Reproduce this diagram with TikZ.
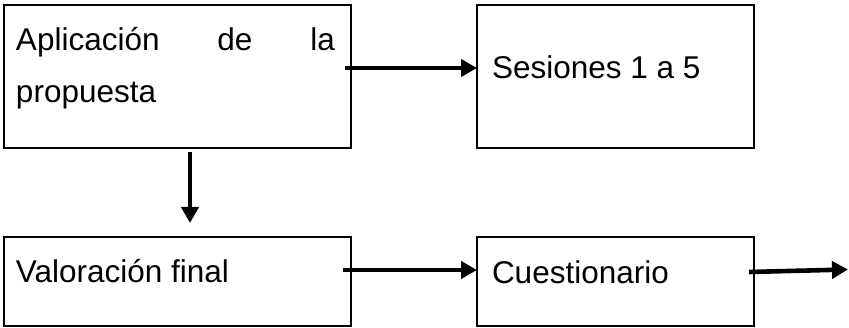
\documentclass[tikz,border=0pt]{standalone}
\usepackage{fontspec}
\setmainfont{Liberation Sans}
\usetikzlibrary{arrows.meta,calc}
\begin{document}
\begin{tikzpicture}[x=1pt,y=-1pt,
  boxnode/.style={draw=black,line width=2.7pt,rectangle,inner sep=0pt,outer sep=0pt},
  lbl/.style={anchor=base west,inner sep=0pt,outer sep=0pt,font=\fontsize{31.5}{52}\selectfont},
  conn/.style={line width=4.6pt,-{Triangle[length=16pt,width=17pt]}}]
\useasboundingbox (0,0) rectangle (849,328);
\node[boxnode,minimum width=347pt,minimum height=143pt] (b1) at (177.5,76.5) {};
\node[boxnode,minimum width=277pt,minimum height=143pt] (b2) at (615.5,76.5) {};
\node[boxnode,minimum width=347pt,minimum height=89pt] (b3) at (177.5,281.5) {};
\node[boxnode,minimum width=277pt,minimum height=89pt] (b4) at (615.5,281.5) {};
\node[lbl] (t1a) at (16,51) {\makebox[319pt][s]{Aplicación de la}};
\node[lbl] (t1b) at (16,103) {propuesta};
\node[lbl] (t2) at (492,79) {Sesiones 1 a 5};
\node[lbl] (t3) at (16,283) {Valoración final};
\node[lbl] (t4) at (492,284) {Cuestionario};
\coordinate (end4) at (848,269.5);
\draw[conn] ($(b1.east)+(-6,-8.5)$) -- ($(b2.west)+(0,-8.5)$);
\draw[conn] ($(b1.south)+(12.5,4)$) -- ($(b3.north)+(12.5,-14)$);
\draw[conn] ($(b3.east)+(-8,-11.5)$) -- ($(b4.west)+(0,-11.5)$);
\draw[conn] ($(b4.east)+(-5,-9.5)$) -- (end4);
\end{tikzpicture}
\end{document}
